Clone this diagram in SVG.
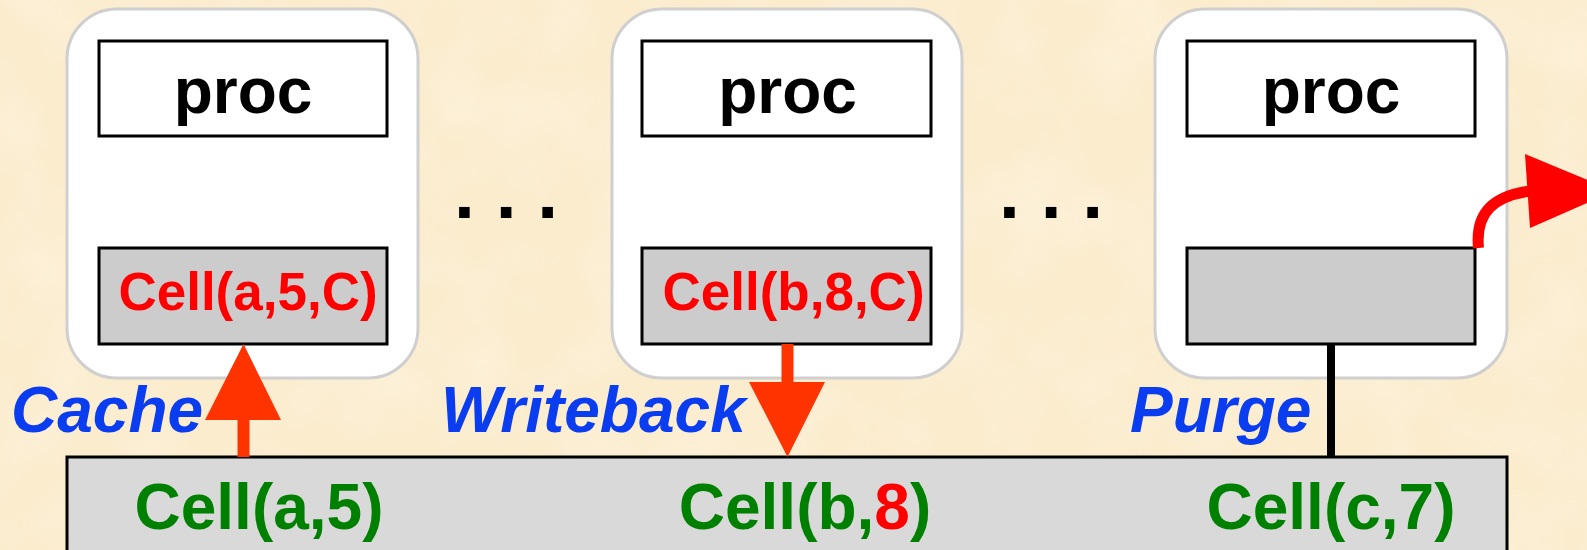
<svg xmlns="http://www.w3.org/2000/svg" width="1587" height="550" viewBox="0 0 1587 550">
  <defs>
    <filter id="paper" x="0" y="0" width="100%" height="100%">
      <feTurbulence type="fractalNoise" baseFrequency="0.012" numOctaves="3" seed="7" result="n"/>
      <feColorMatrix in="n" type="matrix" values="0 0 0 0 1  0 0 0 0 0.97  0 0 0 0 0.88  0 0 0 1.1 -0.45"/>
    </filter>
    <style>
      .node-shell { fill: #ffffff; stroke: #cfcfcf; stroke-width: 3; }
      .proc-box { fill: #ffffff; stroke: #000000; stroke-width: 3; }
      .cache-box { fill: #cccccc; stroke: #000000; stroke-width: 3; }
      .memory { fill: #d9d9d9; stroke: #000000; stroke-width: 3; }
      .bus { stroke: #000000; stroke-width: 8; fill: none; }
      .txt { font-family: "Liberation Sans", Arial, Helvetica, sans-serif; font-weight: bold; }
      .proc-label { font-size: 64px; fill: #000000; text-anchor: middle; }
      .cached { font-size: 53px; fill: #ff0000; text-anchor: middle; }
      .home { font-size: 64px; fill: #008000; text-anchor: middle; }
      .op { font-size: 64px; fill: #0a3cf0; font-style: italic; }
      .dots { font-size: 75px; fill: #000000; }
      .flow { fill: #ff3300; }
    </style>
  </defs>

  <!-- parchment background -->
  <rect x="0" y="0" width="1587" height="550" fill="#fbecce"/>
  <rect x="0" y="0" width="1587" height="550" filter="url(#paper)" opacity="0.55"/>

  <!-- shared memory holding the home copies -->
  <g id="memory">
    <rect class="memory" x="67" y="457" width="1440" height="110"/>
    <text class="txt home" x="259" y="529">Cell(a,5)</text>
    <text class="txt home" x="805" y="529">Cell(b,<tspan fill="#ff0000">8</tspan>)</text>
    <text class="txt home" x="1331" y="529">Cell(c,7)</text>
  </g>

  <!-- connectors -->
  <g id="connectors">
    <line class="bus" x1="243" y1="136" x2="243" y2="248"/>
    <line class="bus" x1="787.5" y1="136" x2="787.5" y2="248"/>
    <line class="bus" x1="1331" y1="136" x2="1331" y2="248"/>
  </g>

  <!-- processor nodes -->
  <g id="node-a">
    <rect class="node-shell" x="67" y="9" width="351" height="369" rx="50" ry="50"/>
    <rect class="proc-box" x="99" y="41" width="288" height="95"/>
    <rect class="cache-box" x="99" y="248" width="288" height="96"/>
    <text class="txt proc-label" x="243" y="113">proc</text>
    <text class="txt cached" x="248" y="310">Cell(a,5,C)</text>
  </g>

  <g id="node-b">
    <rect class="node-shell" x="612" y="9" width="350" height="369" rx="50" ry="50"/>
    <rect class="proc-box" x="642" y="41" width="289" height="95"/>
    <rect class="cache-box" x="642" y="248" width="289" height="96"/>
    <text class="txt proc-label" x="787.5" y="113">proc</text>
    <text class="txt cached" x="793.5" y="310">Cell(b,8,C)</text>
  </g>

  <g id="node-c">
    <rect class="node-shell" x="1155" y="9" width="352" height="369" rx="50" ry="50"/>
    <rect class="proc-box" x="1187" y="41" width="288" height="95"/>
    <rect class="cache-box" x="1187" y="248" width="288" height="96"/>
    <text class="txt proc-label" x="1331" y="113">proc</text>
  </g>

  <!-- ellipses between nodes -->
  <g id="ellipsis">
    <text class="txt dots" x="454" y="218">. . .</text>
    <text class="txt dots" x="999" y="218">. . .</text>
  </g>

  <!-- operation arrows -->
  <g id="flows">
    <line class="bus" x1="1331" y1="344" x2="1331" y2="457"/>
    <!-- cache: memory to node a -->
    <rect class="flow" x="237.5" y="418" width="12" height="39"/>
    <polygon class="flow" points="205,420 281,420 243.5,344"/>
    <!-- writeback: node b to memory -->
    <rect class="flow" x="781.5" y="344" width="12" height="40"/>
    <polygon class="flow" points="749,382 825,382 787.5,457"/>
    <!-- purge: cached line leaves node c -->
    <path d="M1478.5,248 C1475,212 1494,196 1530,191" fill="none" stroke="#ff0000" stroke-width="11"/>
    <polygon points="1525,154 1530,228 1614,191" fill="#ff0000"/>
  </g>

  <!-- operation labels -->
  <g id="labels">
    <text class="txt op" x="11" y="432">Cache</text>
    <text class="txt op" x="441" y="432">Writeback</text>
    <text class="txt op" x="1130" y="432">Purge</text>
  </g>
</svg>
